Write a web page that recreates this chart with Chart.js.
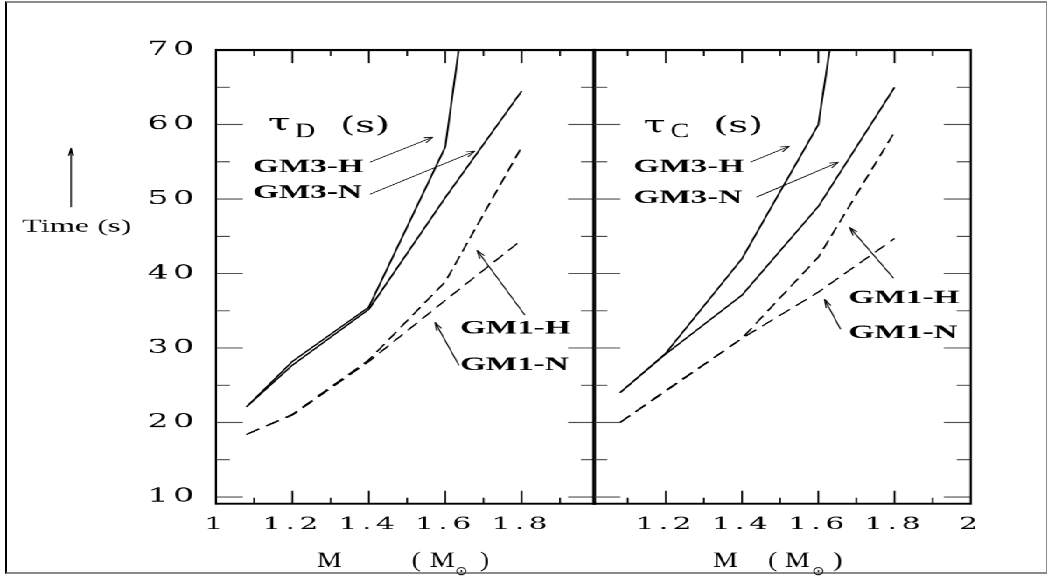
<!DOCTYPE html>
<html><head><meta charset="utf-8">
<script src="https://cdn.jsdelivr.net/npm/chart.js@4.4.1/dist/chart.umd.min.js"></script>
<style>
html,body{margin:0;padding:0;background:#fff;width:1048px;height:576px;overflow:hidden}
#frame{position:absolute;left:5px;top:1px;width:1039px;height:569px;border-top:2px solid #8a8a8a;border-left:2px solid #000;border-right:1px solid #8a8a8a;border-bottom:2px solid #8a8a8a}
#stage{position:absolute;left:0;top:0;width:599px;height:576px;transform-origin:0 0}
#stage canvas{position:absolute;left:0;top:0}
</style></head><body>
<div id="frame"></div>
<div id="stage"><canvas id="cl" width="599" height="576"></canvas><canvas id="cr" width="599" height="576"></canvas></div>
<script>
// ---------------- data ----------------
const massD = [1.08, 1.2, 1.4, 1.6, 1.8];
const tauD_GM3H = [22.1, 28.2, 35.5, 57.0, 131];
const tauD_GM3N = [22.1, 27.7, 35.2, 50.2, 64.5];
const tauD_GM1H = [18.4, 21.1, 28.4, 38.9, 57.0];
const tauD_GM1N = [18.4, 21.0, 28.2, 36.4, 44.5];

const massC = [1.08, 1.2, 1.4, 1.6, 1.8];
const tauC_GM3H = [24.0, 29.3, 42.0, 60.0, 127];
const tauC_GM3N = [24.0, 29.2, 37.1, 49.0, 65.0];
const tauC_GM1H = [20.0, 24.3, 31.3, 42.2, 59.0];
const tauC_GM1N = [20.0, 24.2, 31.3, 37.5, 44.7];

const yTickLabels = ['10', '20', '30', '40', '50', '60', '70'];
const yMinorTicks = [15, 25, 35, 45, 55, 65];
const xTickLabelsD = ['1', '1.2', '1.4', '1.6', '1.8'];
const xTickLabelsC = ['1.2', '1.4', '1.6', '1.8', '2'];
const xMajorTicks = [1.2, 1.4, 1.6, 1.8];
const xMinorTicks = [1.1, 1.3, 1.5, 1.7, 1.9];

// ---------------- layout (horizontal stretch of the whole figure) ----------------
const S = 1048 / 599;
document.getElementById('stage').style.transform = 'scaleX(' + S + ')';

const NOTES = {
  cl: {
    texts: [
      {text: 'τ', x: 1.1361, y: 59.25, font: '23px "DejaVu Serif"'},
      {text: 'D', x: 1.2067, y: 58.31, font: '20px "Liberation Serif"', hs: 0.8},
      {text: '(s)', x: 1.3244, y: 58.95, font: '22px "DejaVu Serif"'},
      {text: 'GM3-H', x: 1.0968, y: 53.61, font: 'bold 19px "Liberation Serif"'},
      {text: 'GM3-N', x: 1.0968, y: 50.12, font: 'bold 19px "Liberation Serif"'},
      {text: 'GM1-H', x: 1.6384, y: 31.98, font: 'bold 19px "Liberation Serif"'},
      {text: 'GM1-N', x: 1.6384, y: 27.0, font: 'bold 19px "Liberation Serif"'}
    ],
    arrows: [
      {from: [1.4029, 54.95], to: [1.5678, 58.31]},
      {from: [1.4029, 50.65], to: [1.6776, 56.43]},
      {from: [1.8085, 34.40], to: [1.6829, 43.13]},
      {from: [1.6358, 27.68], to: [1.5730, 33.46]}
    ],
    title: [
      {text: 'M', dx: -88.5, y: 566.5},
      {text: '(', dx: 6.2, y: 566.5},
      {text: 'M', dx: 24.5, y: 566.5},
      {text: '⊙', dx: 49.5, y: 574.5, font: '12px "DejaVu Sans"'},
      {text: ')', dx: 74.5, y: 566.5}
    ],
    ylabel: true
  },
  cr: {
    texts: [
      {text: 'τ', x: 1.1412, y: 58.98, font: '23px "DejaVu Serif"'},
      {text: 'C', x: 1.2121, y: 58.31, font: '20px "Liberation Serif"', hs: 0.8},
      {text: '(s)', x: 1.3249, y: 58.95, font: '22px "DejaVu Serif"'},
      {text: 'GM3-H', x: 1.1150, y: 53.61, font: 'bold 19px "Liberation Serif"'},
      {text: 'GM3-N', x: 1.1150, y: 49.44, font: 'bold 19px "Liberation Serif"'},
      {text: 'GM1-H', x: 1.6793, y: 36.01, font: 'bold 19px "Liberation Serif"'},
      {text: 'GM1-N', x: 1.6793, y: 31.31, font: 'bold 19px "Liberation Serif"'}
    ],
    arrows: [
      {from: [1.4220, 54.95], to: [1.5244, 57.10]},
      {from: [1.4378, 50.25], to: [1.6530, 54.95]},
      {from: [1.7974, 39.37], to: [1.6819, 46.22]},
      {from: [1.6583, 32.52], to: [1.6163, 36.55]}
    ],
    title: [
      {text: 'M', dx: -69.1, y: 566.5},
      {text: '(', dx: -14.1, y: 566.5},
      {text: 'M', dx: 2.9, y: 566.5},
      {text: '⊙', dx: 29.9, y: 574.5, font: '12px "DejaVu Sans"'},
      {text: ')', dx: 50.9, y: 566.5}
    ],
    ylabel: false
  }
};

function drawArrow(ctx, x1, y1, x2, y2, len) {
  ctx.beginPath();
  ctx.moveTo(x1, y1); ctx.lineTo(x2, y2);
  const ang = Math.atan2(y2 - y1, (x2 - x1) * S);
  for (const d of [0.3, -0.3]) {
    const bx = x2 * S - len * Math.cos(ang + d);
    const by = y2 - len * Math.sin(ang + d);
    ctx.moveTo(x2, y2); ctx.lineTo(bx / S, by);
  }
  ctx.stroke();
}

const spacingPlugin = {
  id: 'spacing',
  beforeDraw(chart) { chart.ctx.letterSpacing = '2.5px'; },
  afterDatasetsDraw(chart) { chart.ctx.letterSpacing = '0px'; }
};

const framePlugin = {
  id: 'frameTicks',
  afterDraw(chart) {
    const {ctx, chartArea: a, scales: {x, y}} = chart;
    ctx.save();
    // y ticks (inward, both sides)
    ctx.strokeStyle = '#444'; ctx.lineWidth = 1;
    ctx.beginPath();
    const yt = (v, len) => {
      const p = y.getPixelForValue(v);
      ctx.moveTo(a.left, p); ctx.lineTo(a.left + len / S, p);
      ctx.moveTo(a.right, p); ctx.lineTo(a.right - len / S, p);
    };
    yTickLabels.map(Number).filter(v => v < 70).forEach(v => yt(v, 27));
    yMinorTicks.forEach(v => yt(v, 14));
    ctx.stroke();
    // x ticks (inward, top and bottom)
    ctx.strokeStyle = '#000'; ctx.lineWidth = 1;
    ctx.beginPath();
    const xt = (v, len) => {
      const p = x.getPixelForValue(v);
      ctx.moveTo(p, a.top); ctx.lineTo(p, a.top + len);
      ctx.moveTo(p, a.bottom); ctx.lineTo(p, a.bottom - len);
    };
    xMajorTicks.forEach(v => xt(v, 13));
    xMinorTicks.forEach(v => xt(v, 6));
    ctx.stroke();
    // frame
    ctx.lineWidth = 2;
    ctx.beginPath();
    ctx.moveTo(a.left, a.top); ctx.lineTo(a.right, a.top);
    ctx.moveTo(a.left, a.bottom); ctx.lineTo(a.right, a.bottom);
    ctx.stroke();
    ctx.lineWidth = 1.2;
    ctx.beginPath();
    ctx.moveTo(a.left, a.top - 1); ctx.lineTo(a.left, a.bottom + 1);
    ctx.moveTo(a.right, a.top - 1); ctx.lineTo(a.right, a.bottom + 1);
    ctx.stroke();
    ctx.restore();
  }
};

const notesPlugin = {
  id: 'notes',
  afterDraw(chart) {
    const n = NOTES[chart.canvas.id];
    const {ctx, chartArea: a, scales: {x, y}} = chart;
    ctx.save();
    ctx.letterSpacing = '0px';
    ctx.fillStyle = '#000';
    ctx.textAlign = 'left';
    ctx.textBaseline = 'alphabetic';
    n.texts.forEach(t => {
      ctx.save();
      ctx.font = t.font;
      ctx.translate(x.getPixelForValue(t.x), y.getPixelForValue(t.y));
      ctx.scale(t.hs || 1, 1);
      ctx.fillText(t.text, 0, 0);
      ctx.restore();
    });
    ctx.strokeStyle = '#111'; ctx.lineWidth = 0.8;
    n.arrows.forEach(ar => drawArrow(ctx,
      x.getPixelForValue(ar.from[0]), y.getPixelForValue(ar.from[1]),
      x.getPixelForValue(ar.to[0]), y.getPixelForValue(ar.to[1]), 9));
    // axis title  M (M⊙)
    const cx = (a.left + a.right) / 2 * S;
    n.title.forEach(p => {
      ctx.save();
      ctx.font = p.font || '22px "Liberation Serif"';
      ctx.translate((cx + p.dx) / S, p.y);
      ctx.scale(0.72, 1);
      ctx.fillText(p.text, 0, 0);
      ctx.restore();
    });
    if (n.ylabel) {
      ctx.font = '18.5px "Liberation Serif"';
      ctx.fillText('Time (s)', 22 / S, 231.5);
      ctx.lineWidth = 0.8;
      ctx.strokeStyle = '#000';
      drawArrow(ctx, 71 / S, 207, 71 / S, 148, 8);
    }
    ctx.restore();
  }
};

function series(xs, ys, dashed) {
  return {
    data: xs.map((m, i) => ({x: m, y: ys[i]})),
    borderColor: '#000', borderWidth: 1.1, pointRadius: 0, tension: 0, fill: false,
    borderDash: dashed ? [9, 5] : []
  };
}

function makeChart(id, xs, sets, xLabels, xmin, xmax, showY, padding) {
  return new Chart(document.getElementById(id), {
    type: 'line',
    data: {datasets: [
      series(xs, sets[0], false), series(xs, sets[1], false),
      series(xs, sets[2], true), series(xs, sets[3], true)
    ]},
    options: {
      responsive: false, animation: false, devicePixelRatio: S,
      layout: {padding},
      plugins: {legend: {display: false}, tooltip: {enabled: false}},
      scales: {
        x: {
          type: 'linear', min: xmin, max: xmax, position: 'bottom',
          afterFit(s) { s.height = 72.7; },
          afterBuildTicks(s) { s.ticks = xLabels.map(l => ({value: parseFloat(l)})); },
          ticks: {callback: (v, i) => xLabels[i], font: {family: 'DejaVu Serif', size: 17}, color: '#000', padding: 11, maxRotation: 0, autoSkip: false},
          grid: {display: false, drawTicks: false}, border: {display: false}
        },
        y: {
          type: 'linear', min: 9.1, max: 70, display: showY,
          afterFit(s) { s.width = showY ? 123.43 : 0; },
          afterBuildTicks(s) { s.ticks = yTickLabels.map(l => ({value: parseFloat(l)})); },
          ticks: {callback: (v, i) => yTickLabels[i], font: {family: 'DejaVu Serif', size: 19}, color: '#000', padding: 10, autoSkip: false},
          grid: {display: false, drawTicks: false}, border: {display: false}
        }
      }
    },
    plugins: [spacingPlugin, framePlugin, notesPlugin]
  });
}

makeChart('cl', massD, [tauD_GM3H, tauD_GM3N, tauD_GM1H, tauD_GM1N], xTickLabelsD, 1.0, 1.9916, true,
  {left: 0, right: 259, top: 50, bottom: 0});
makeChart('cr', massC, [tauC_GM3H, tauC_GM3N, tauC_GM1H, tauC_GM1N], xTickLabelsC, 1.01, 2.0, false,
  {left: 339.14, right: 44.17, top: 50, bottom: 0});
</script>
</body></html>
